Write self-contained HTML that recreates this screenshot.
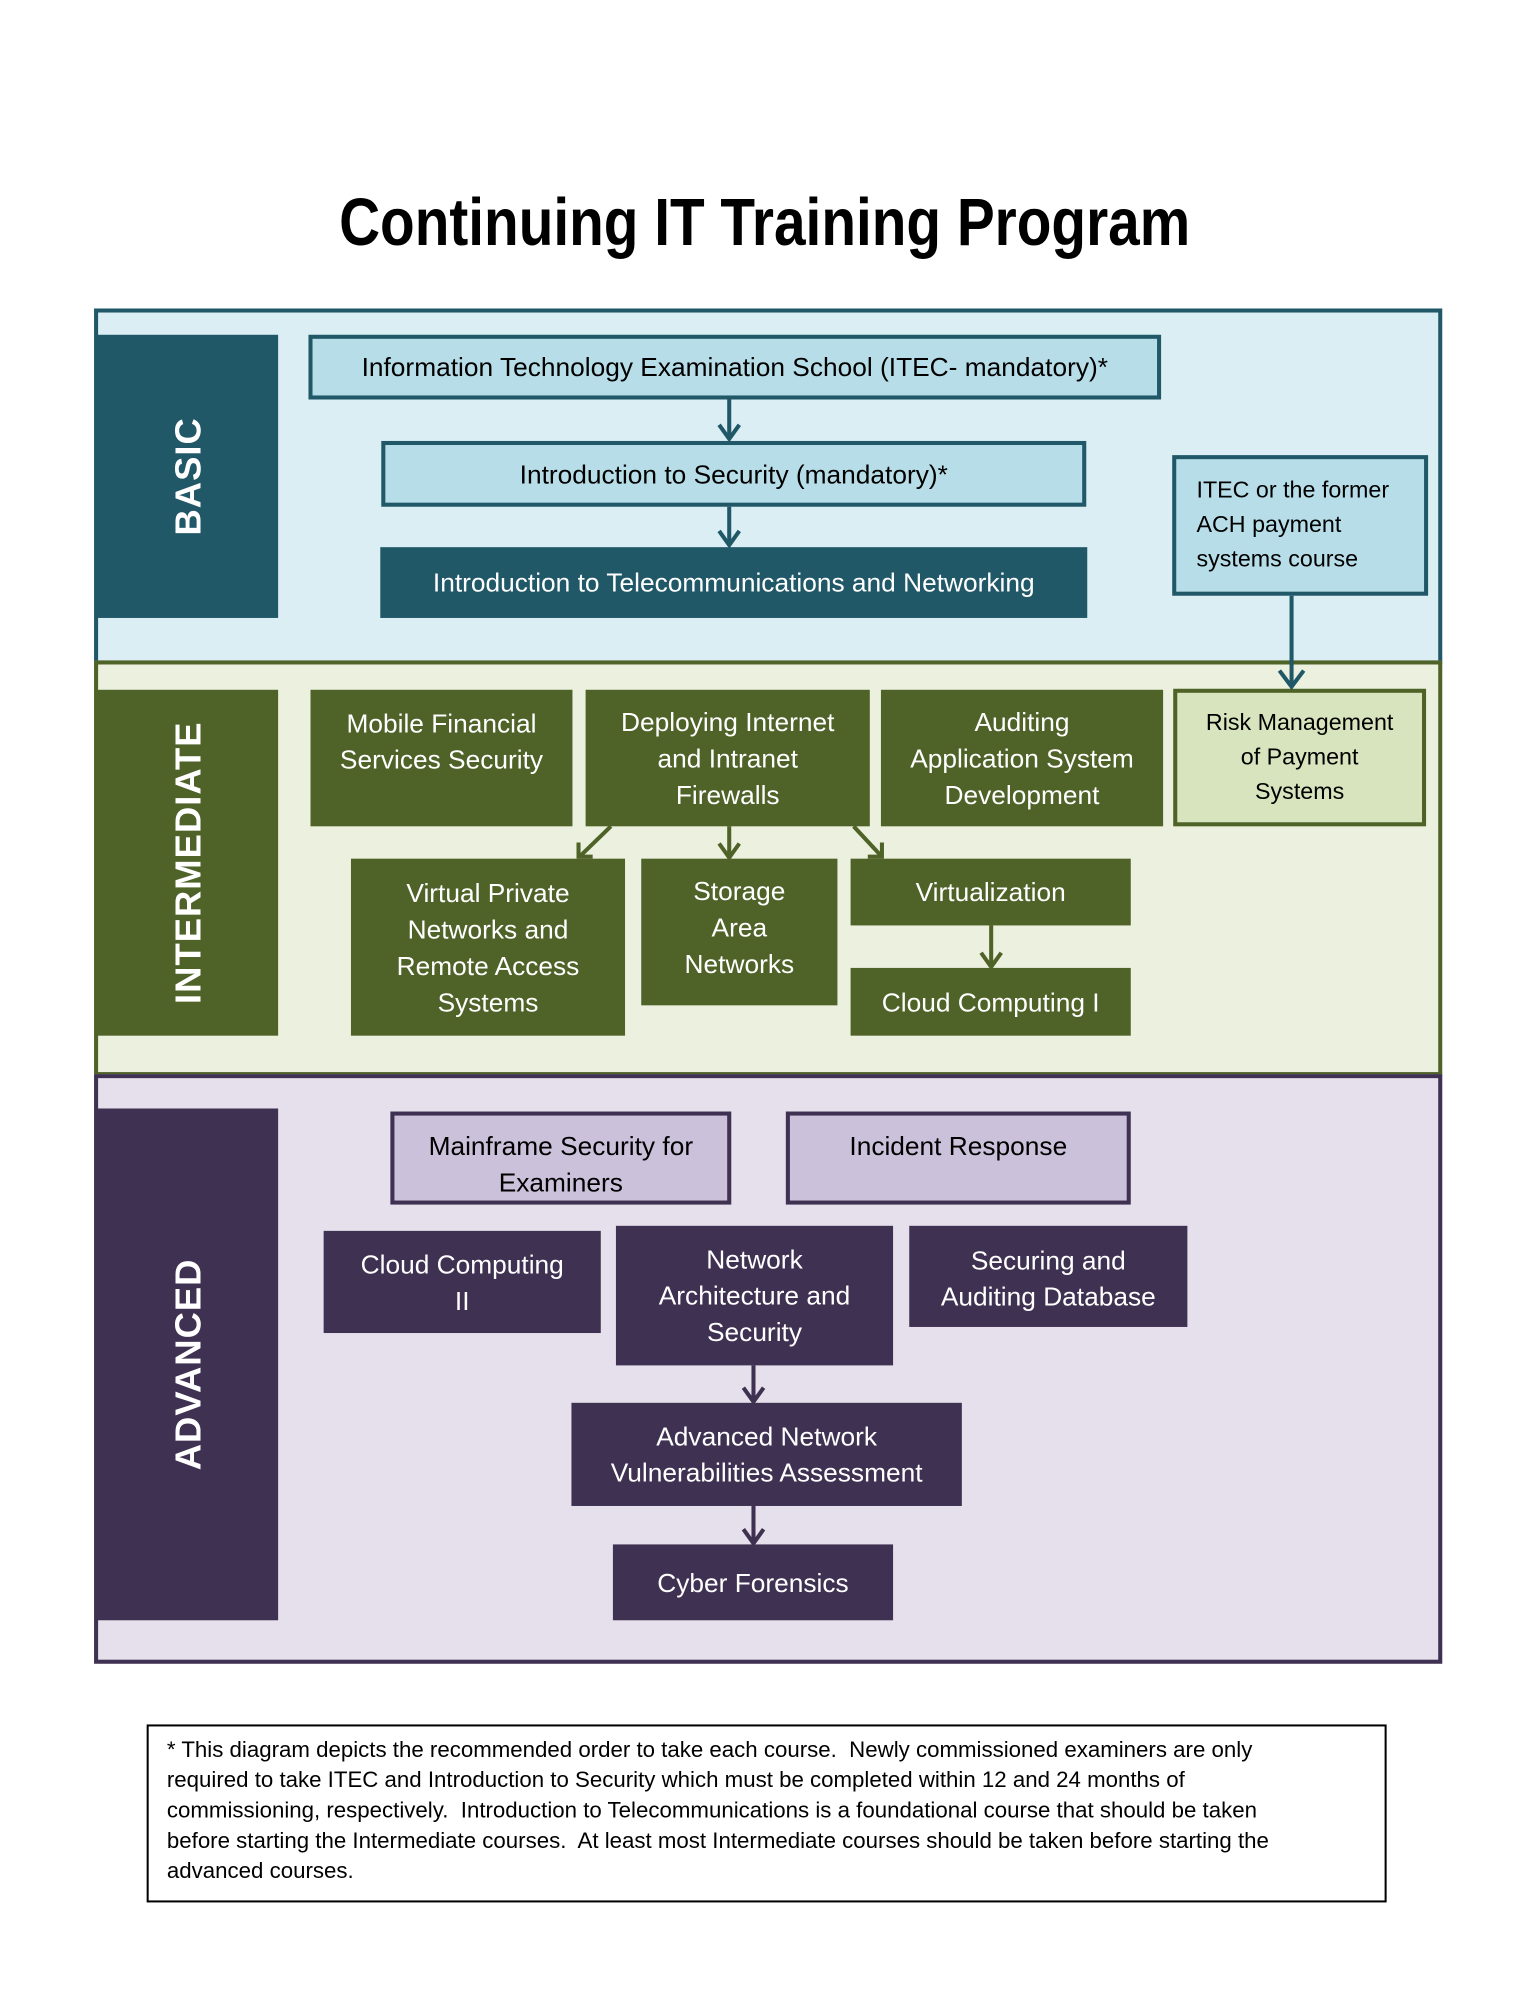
<!DOCTYPE html>
<html><head><meta charset="utf-8"><style>
body{margin:0;width:1530px;height:1980px;background:#fff;position:relative;font-family:"Liberation Sans",sans-serif;overflow:hidden}
#w{position:absolute;left:0;top:0;width:1530px;height:1980px;transform:scale(1.0114);transform-origin:0 0}
.a{position:absolute;box-sizing:border-box}
.b{position:absolute;box-sizing:border-box;display:flex;align-items:center;justify-content:center;text-align:center;font-size:26px;line-height:36px}
.t{align-items:flex-start}
.side{position:absolute;box-sizing:border-box;color:#fff;font-weight:bold;font-size:36px}
.side span{position:absolute;left:50%;top:50%;transform:translate(-50%,-50%) rotate(-90deg);white-space:nowrap;letter-spacing:1px}
.bl{background:#b7dee8;border:4px solid #215868;color:#000}
.bd{background:#215868;color:#fff}
.gd{background:#4f6228;color:#fff}
.pl{background:#ccc1da;border:4px solid #3f3151;color:#000}
.pd{background:#3f3151;color:#fff}
.fn{position:absolute;left:165px;font-size:22px;white-space:nowrap}
</style></head><body><div id="w">
<div class="a" style="left:0;top:185px;width:1512px;text-align:center;font-size:66px;line-height:68px;font-weight:bold;transform:scaleX(0.85);transform-origin:756px 0">Continuing IT Training Program</div>

<div class="a" style="left:93px;top:305px;width:1333px;height:352px;background:#daeef3;border:4px solid #215868"></div>
<div class="a" style="left:93px;top:653px;width:1333px;height:411px;background:#ebf1de;border:4px solid #4f6228"></div>
<div class="a" style="left:93px;top:1062px;width:1333px;height:583px;background:#e5e0ec;border:4px solid #3f3151"></div>

<div class="side" style="left:96px;top:331px;width:179px;height:280px;background:#215868"><span>BASIC</span></div>
<div class="side" style="left:96px;top:682px;width:179px;height:342px;background:#4f6228"><span>INTERMEDIATE</span></div>
<div class="side" style="left:96px;top:1096px;width:179px;height:506px;background:#3f3151"><span>ADVANCED</span></div>

<div class="b bl" style="left:305px;top:331px;width:843px;height:64px">Information Technology Examination School (ITEC- mandatory)*</div>
<div class="b bl" style="left:377px;top:436px;width:697px;height:65px">Introduction to Security (mandatory)*</div>
<div class="b bd" style="left:376px;top:541px;width:699px;height:70px">Introduction to Telecommunications and Networking</div>
<div class="b bl" style="left:1159px;top:450px;width:253px;height:139px;justify-content:flex-start;align-items:flex-start;text-align:left;padding:13px 0 0 20px;font-size:23px;line-height:34px">ITEC or the former<br>ACH payment<br>systems course</div>

<div class="b gd" style="left:307px;top:682px;width:259px;height:135px;align-items:flex-start;padding-top:15px">Mobile Financial<br>Services Security</div>
<div class="b gd" style="left:579px;top:682px;width:281px;height:135px">Deploying Internet<br>and Intranet<br>Firewalls</div>
<div class="b gd" style="left:871px;top:682px;width:279px;height:135px">Auditing<br>Application System<br>Development</div>
<div class="b" style="left:1160px;top:681px;width:250px;height:136px;background:#d7e4bd;border:4px solid #4f6228;font-size:23px;line-height:34px;align-items:flex-start;padding-top:12px">Risk Management<br>of Payment<br>Systems</div>
<div class="b gd" style="left:347px;top:849px;width:271px;height:175px">Virtual Private<br>Networks and<br>Remote Access<br>Systems</div>
<div class="b gd" style="left:634px;top:849px;width:194px;height:145px;align-items:flex-start;padding-top:14px">Storage<br>Area<br>Networks</div>
<div class="b gd" style="left:841px;top:849px;width:277px;height:66px">Virtualization</div>
<div class="b gd" style="left:841px;top:957px;width:277px;height:67px">Cloud Computing I</div>

<div class="b pl t" style="left:386px;top:1099px;width:337px;height:92px;padding-top:12px">Mainframe Security for<br>Examiners</div>
<div class="b pl t" style="left:777px;top:1099px;width:341px;height:92px;padding-top:12px">Incident Response</div>
<div class="b pd t" style="left:320px;top:1217px;width:274px;height:101px;padding-top:15px">Cloud Computing<br>II</div>
<div class="b pd" style="left:609px;top:1212px;width:274px;height:138px">Network<br>Architecture and<br>Security</div>
<div class="b pd t" style="left:899px;top:1212px;width:275px;height:100px;padding-top:16px">Securing and<br>Auditing Database</div>
<div class="b pd" style="left:565px;top:1387px;width:386px;height:102px">Advanced Network<br>Vulnerabilities Assessment</div>
<div class="b pd" style="left:606px;top:1527px;width:277px;height:75px">Cyber Forensics</div>

<svg class="a" style="left:0;top:0" width="1530" height="1980">
<g stroke="#215868" stroke-width="4" fill="none">
<line x1="721" y1="395" x2="721" y2="432"/><polyline points="711,420 721,434 731,420"/>
<line x1="721" y1="501" x2="721" y2="537"/><polyline points="711,525 721,539 731,525"/>
<line x1="1277" y1="589" x2="1277" y2="677"/><polyline points="1265,663 1277,679 1289,663"/>
</g>
<g stroke="#4f6228" stroke-width="4" fill="none">
<line x1="604" y1="817" x2="574" y2="846"/><polyline points="572,833 572,847 586,847"/>
<line x1="721" y1="817" x2="721" y2="846"/><polyline points="711,834 721,848 731,834"/>
<line x1="844" y1="817" x2="871" y2="846"/><polyline points="858,847 872,847 872,833"/>
<line x1="980" y1="915" x2="980" y2="954"/><polyline points="970,942 980,956 990,942"/>
</g>
<g stroke="#3f3151" stroke-width="4" fill="none">
<line x1="745" y1="1350" x2="745" y2="1384"/><polyline points="735,1372 745,1386 755,1372"/>
<line x1="745" y1="1489" x2="745" y2="1524"/><polyline points="735,1512 745,1526 755,1512"/>
</g>
</svg>

<div class="a" style="left:145px;top:1705px;width:1226px;height:176px;border:2px solid #000"></div>
<div class="fn" style="top:1717px">* This diagram depicts the recommended order to take each course.&nbsp; Newly commissioned examiners are only</div>
<div class="fn" style="top:1747px">required to take ITEC and Introduction to Security which must be completed within 12 and 24 months of</div>
<div class="fn" style="top:1777px">commissioning, respectively.&nbsp; Introduction to Telecommunications is a foundational course that should be taken</div>
<div class="fn" style="top:1807px">before starting the Intermediate courses.&nbsp; At least most Intermediate courses should be taken before starting the</div>
<div class="fn" style="top:1837px">advanced courses.</div>
</div></body></html>
